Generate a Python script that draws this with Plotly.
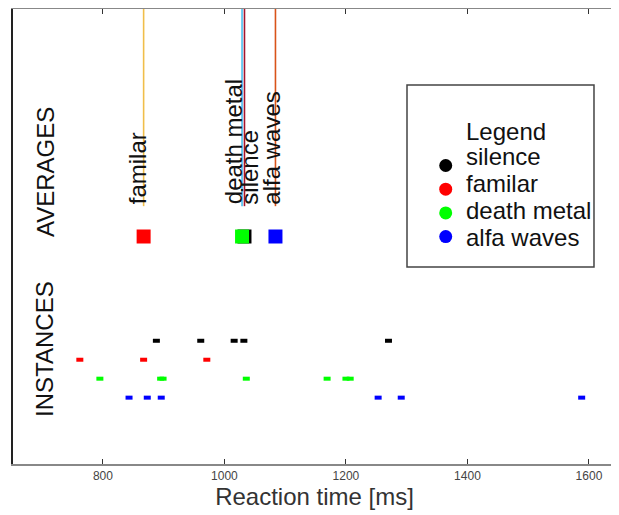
import plotly.graph_objects as go

# ---------------- data ----------------
categories = ["silence", "familar", "death metal", "alfa waves"]
marker_colors = ["#000000", "#ff0000", "#00ff00", "#0000ff"]
line_colors = ["#A2142F", "#F0BE4A", "#4DBEEE", "#D95319"]

silence_rt = [888, 961, 1016, 1032, 1270]
familar_rt = [762, 867, 971]
death_metal_rt = [795, 895, 899, 1036, 1169, 1200, 1207]
alfa_waves_rt = [843, 873, 896, 1253, 1291, 1588]
instances = [silence_rt, familar_rt, death_metal_rt, alfa_waves_rt]

averages_rt = [1033, 867, 1029, 1084]

x_ticks = [800, 1000, 1200, 1400, 1600]

# ---------------- layout constants ----------------
FONT = "Liberation Sans"
TXT = 24
row_y = [6.5, 5.5, 4.5, 3.5]      # instance rows
avg_y = 12.0                      # averages row
line_y0, line_y1 = 13.6, 24.0     # vertical average lines
label_xshift = [15, 3, 1, 6]      # label offsets (px) to the right of each line

fig = go.Figure()

# vertical lines at the averages
for name, avg, lc in zip(categories, averages_rt, line_colors):
    fig.add_trace(go.Scatter(
        x=[avg, avg], y=[line_y0, line_y1], mode="lines",
        line=dict(color=lc, width=1.6), showlegend=False, hoverinfo="skip"))

# instances
for name, vals, c, yy in zip(categories, instances, marker_colors, row_y):
    fig.add_trace(go.Scatter(
        x=vals, y=[yy] * len(vals), mode="markers", name=name,
        marker=dict(symbol="line-ew", size=5, color=c,
                    line=dict(color=c, width=4)),
        showlegend=False))

# averages (squares)
for name, avg, c in zip(categories, averages_rt, marker_colors):
    fig.add_trace(go.Scatter(
        x=[avg], y=[avg_y], mode="markers", name=name,
        marker=dict(symbol="square", size=14, color=c, line=dict(width=0)),
        showlegend=False))

# labels of the averages
for name, avg, dx in zip(categories, averages_rt, label_xshift):
    fig.add_annotation(
        x=avg, y=line_y0, xref="x", yref="y", text=name, showarrow=False,
        textangle=-90, xanchor="right", yanchor="bottom", xshift=dx + 6,
        font=dict(family=FONT, size=TXT, color="#111111"))

# row titles
fig.add_annotation(x=0.053, y=15.4, xref="paper", yref="y", text="AVERAGES",
                   showarrow=False, textangle=-90, xanchor="center",
                   yanchor="middle",
                   font=dict(family=FONT, size=TXT, color="#111111"))
fig.add_annotation(x=0.053, y=6.07, xref="paper", yref="y", text="INSTANCES",
                   showarrow=False, textangle=-90, xanchor="center",
                   yanchor="middle",
                   font=dict(family=FONT, size=TXT, color="#111111"))

# ---------------- hand-made legend on its own axes ----------------
leg_idx = list(range(len(categories)))
fig.add_trace(go.Scatter(
    x=[0.207] * len(categories), y=leg_idx, mode="markers",
    marker=dict(symbol="circle", size=13, color=marker_colors),
    xaxis="x2", yaxis="y2", showlegend=False, hoverinfo="skip"))
for i, name in enumerate(categories):
    fig.add_annotation(x=0.305, y=i, xref="x2", yref="y2", text=name,
                       showarrow=False, xanchor="left", yanchor="middle",
                       yshift=8.5 - 3 * i,
                       font=dict(family=FONT, size=TXT, color="#111111"))
fig.add_annotation(x=0.305, y=-1.45, xref="x2", yref="y2", text="Legend",
                   showarrow=False, xanchor="left", yanchor="middle",
                   font=dict(family=FONT, size=TXT, color="#111111"))
fig.add_shape(type="rect", xref="x2 domain", yref="y2 domain",
              x0=0, x1=1, y0=0, y1=1,
              line=dict(color="#444444", width=1.5), fillcolor="rgba(0,0,0,0)")

# right border of plot frame
fig.add_shape(type="line", xref="paper", yref="paper", x0=1, x1=1, y0=0, y1=1,
              line=dict(color="#888888", width=1.5))

# the page body adds an 8px margin; the figure is sized to fit the window
fig.update_layout(
    width=611, height=507,
    margin=dict(l=5, r=2.5, t=0.8, b=51.2),
    paper_bgcolor="white", plot_bgcolor="white",
    showlegend=False,
    font=dict(family=FONT),
    xaxis=dict(
        range=[652, 1644.5], tickvals=x_ticks, ticktext=[str(t) for t in x_ticks],
        ticks="inside", ticklen=5, tickwidth=1, tickcolor="#333333",
        showline=True, linecolor="#888888", linewidth=1.5, mirror="ticks",
        showgrid=False, zeroline=False,
        tickfont=dict(family=FONT, size=12, color="#444444"),
        title=dict(text="Reaction time [ms]", standoff=6,
                   font=dict(family=FONT, size=24, color="#333333")),
    ),
    yaxis=dict(
        range=[0, 24], showticklabels=False, ticks="", showgrid=False,
        zeroline=False, showline=True, linecolor="#222222", linewidth=1.5,
        mirror=False,
    ),
    xaxis2=dict(domain=[0.6534, 0.9635], range=[0, 1], anchor="y2",
                visible=False, fixedrange=True),
    yaxis2=dict(domain=[0.433, 0.833], range=[4.282, -3.397], anchor="x2",
                visible=False, fixedrange=True),
)

fig.write_html("out.html")
